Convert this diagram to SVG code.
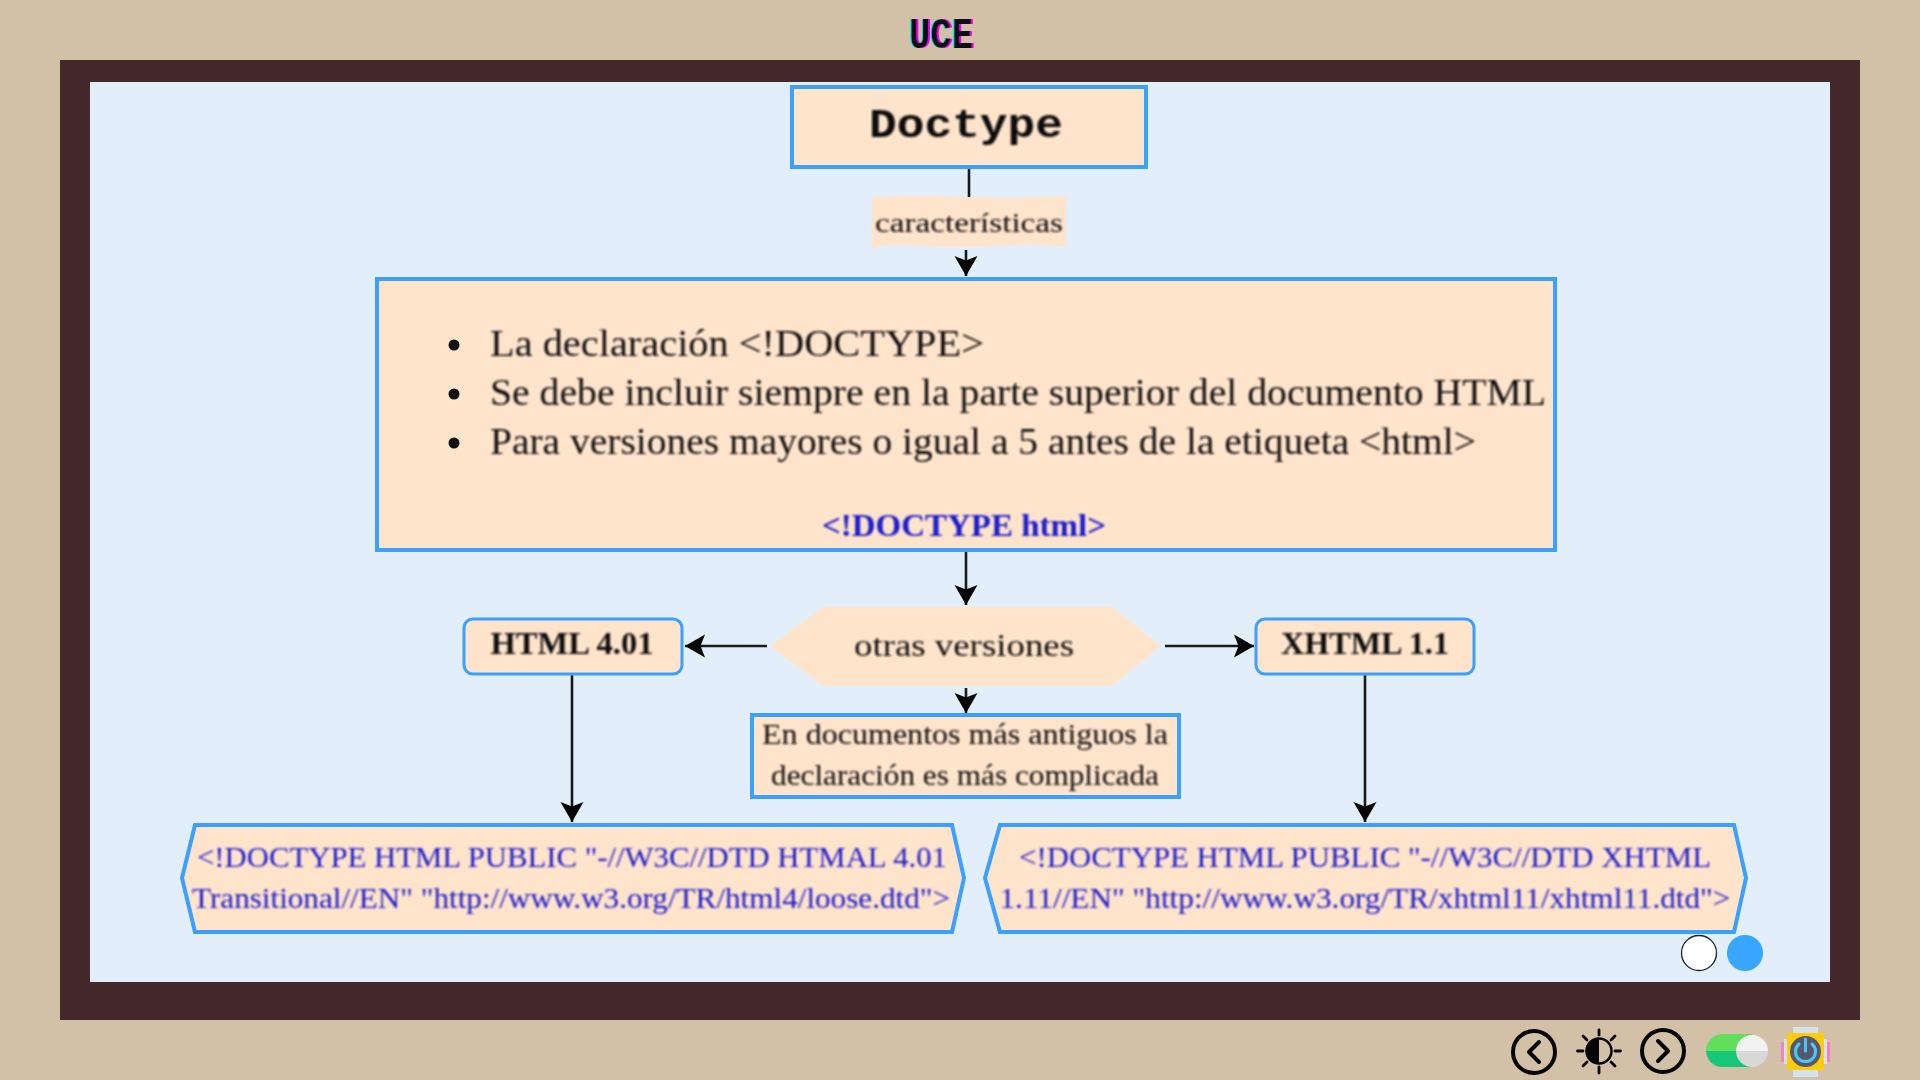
<svg xmlns="http://www.w3.org/2000/svg" width="1920" height="1080" viewBox="0 0 1920 1080">
<style>
.box{fill:#ffe4cc;stroke:#3ba0ff;stroke-width:4;filter:url(#edge)}
.conn{fill:none;stroke:#1a1a1a;stroke-width:2.6}
text{font-family:"Liberation Serif","Times New Roman",serif;fill:#111;filter:url(#soft)}
.c{text-anchor:middle}
.blue{fill:#1a1acc}
.ico{fill:none;stroke:#050505;stroke-width:4;stroke-linecap:round;stroke-linejoin:round}
</style>
<defs>
<filter id="soft" x="-5%" y="-30%" width="110%" height="160%"><feGaussianBlur stdDeviation="0.8"/></filter>
<filter id="edge" x="-2%" y="-5%" width="104%" height="110%"><feGaussianBlur stdDeviation="0.6"/></filter>
<filter id="glitch" x="-10%" y="-10%" width="120%" height="120%">
<feOffset in="SourceAlpha" dx="-1.500" result="a"/><feFlood flood-color="#00e5e5"/><feComposite in2="a" operator="in" result="cy"/>
<feOffset in="SourceAlpha" dx="1.500" result="b"/><feFlood flood-color="#f000f0"/><feComposite in2="b" operator="in" result="mg"/>
<feMerge><feMergeNode in="cy"/><feMergeNode in="mg"/><feMergeNode in="SourceGraphic"/></feMerge>
</filter>
<marker id="arr" markerUnits="userSpaceOnUse" markerWidth="24" markerHeight="26" viewBox="0 0 24 26" refX="22" refY="13" orient="auto">
<path d="M2 1.500L22 13L2 24.500L6.500 13Z" fill="#050505"/>
</marker>
</defs>
<rect width="1920" height="1080" fill="#d2c1a7"/>
<rect x="60" y="60" width="1800" height="960" fill="#45282b"/>
<rect x="90" y="82" width="1740" height="900" fill="#e2effa"/>
<text id="title" x="941" y="48" class="c" style="font-family:'Liberation Mono',monospace;font-weight:700;font-size:45px;fill:#0a0a14;filter:url(#glitch)" textLength="64" lengthAdjust="spacingAndGlyphs">UCE</text>

<g id="connectors">
<path class="conn" d="M969 169V197"/>
<path class="conn" d="M966 250V276" marker-end="url(#arr)"/>
<path class="conn" d="M966 552V605" marker-end="url(#arr)"/>
<path class="conn" d="M767 646H685" marker-end="url(#arr)"/>
<path class="conn" d="M1165 646H1254" marker-end="url(#arr)"/>
<path class="conn" d="M966 688V713" marker-end="url(#arr)"/>
<path class="conn" d="M572 675V822" marker-end="url(#arr)"/>
<path class="conn" d="M1365 675V822" marker-end="url(#arr)"/>
</g>

<g id="node-doctype">
<rect class="box" x="792" y="87" width="354" height="80"/>
<text x="966" y="137" class="c" style="font-family:'Liberation Mono',monospace;font-weight:700;font-size:40px" textLength="194" lengthAdjust="spacingAndGlyphs">Doctype</text>
</g>

<g id="node-caracteristicas">
<path d="M872 197Q920 195 969 197T1066 196V247Q1040 243 1010 245T960 247T910 245T872 249Z" fill="#ffe4cc"/>
<text x="969" y="232" class="c" style="font-size:28px" textLength="188" lengthAdjust="spacingAndGlyphs">características</text>
</g>

<g id="node-main">
<rect class="box" x="377" y="279" width="1178" height="271"/>
<circle cx="454" cy="345" r="5.500" fill="#111"/>
<circle cx="454" cy="394" r="5.500" fill="#111"/>
<circle cx="454" cy="443" r="5.500" fill="#111"/>
<text x="490" y="356" style="font-size:37px" textLength="494" lengthAdjust="spacingAndGlyphs">La declaración &lt;!DOCTYPE&gt;</text>
<text x="490" y="405" style="font-size:37px" textLength="1056" lengthAdjust="spacingAndGlyphs">Se debe incluir siempre en la parte superior del documento HTML</text>
<text x="490" y="454" style="font-size:37px" textLength="986" lengthAdjust="spacingAndGlyphs">Para versiones mayores o igual a 5 antes de la etiqueta &lt;html&gt;</text>
<text x="964" y="536" class="c blue" style="font-size:32px;font-weight:700" textLength="284" lengthAdjust="spacingAndGlyphs">&lt;!DOCTYPE html&gt;</text>
</g>

<g id="node-otras">
<path d="M823 607H1112L1161 646L1112 686H823L770 646Z" fill="#ffe4cc"/>
<text x="964" y="656" class="c" style="font-size:32px" textLength="220" lengthAdjust="spacingAndGlyphs">otras versiones</text>
</g>

<g id="node-html401">
<rect class="box" style="stroke-width:3" x="464" y="619" width="218" height="55" rx="9"/>
<text x="572" y="654" class="c" style="font-size:32px;font-weight:700" textLength="163" lengthAdjust="spacingAndGlyphs">HTML 4.01</text>
</g>

<g id="node-xhtml11">
<rect class="box" style="stroke-width:3" x="1256" y="619" width="218" height="55" rx="9"/>
<text x="1365" y="654" class="c" style="font-size:32px;font-weight:700" textLength="168" lengthAdjust="spacingAndGlyphs">XHTML 1.1</text>
</g>

<g id="node-antiguos">
<rect class="box" x="752" y="715" width="427" height="82"/>
<text x="965" y="744" class="c" style="font-size:30px" textLength="406" lengthAdjust="spacingAndGlyphs">En documentos más antiguos la</text>
<text x="965" y="785" class="c" style="font-size:30px" textLength="388" lengthAdjust="spacingAndGlyphs">declaración es más complicada</text>
</g>

<g id="node-html-code">
<path class="box" d="M195 825H952L964 878L952 932H195L182 878Z"/>
<text x="572" y="867" class="c blue" style="font-size:28.500px" textLength="750" lengthAdjust="spacingAndGlyphs">&lt;!DOCTYPE HTML PUBLIC "-//W3C//DTD HTMAL 4.01</text>
<text x="571" y="908" class="c blue" style="font-size:28.500px" textLength="758" lengthAdjust="spacingAndGlyphs">Transitional//EN" "http://www.w3.org/TR/html4/loose.dtd"&gt;</text>
</g>

<g id="node-xhtml-code">
<path class="box" d="M1000 825H1734L1746 878L1734 932H1000L985 878Z"/>
<text x="1365" y="867" class="c blue" style="font-size:28.500px" textLength="692" lengthAdjust="spacingAndGlyphs">&lt;!DOCTYPE HTML PUBLIC "-//W3C//DTD XHTML</text>
<text x="1365" y="908" class="c blue" style="font-size:28.500px" textLength="731" lengthAdjust="spacingAndGlyphs">1.11//EN" "http://www.w3.org/TR/xhtml11/xhtml11.dtd"&gt;</text>
</g>

<g id="pager">
<circle cx="1699" cy="953" r="17.500" fill="#fff" stroke="#222" stroke-width="1.300"/>
<circle cx="1745" cy="953" r="18" fill="#38a5ff"/>
</g>

<g id="controls">
<circle class="ico" cx="1534" cy="1052" r="21"/>
<path class="ico" d="M1539 1042L1529 1052L1539 1062"/>
<circle cx="1599" cy="1051" r="12.500" fill="none" stroke="#050505" stroke-width="2.500"/>
<path d="M1599 1038.500A12.500 12.500 0 0 0 1599 1063.500Z" fill="#050505"/>
<path class="ico" style="stroke-width:2.800" d="M1599 1030V1035M1599 1067V1073M1577.500 1051H1583M1615 1051H1620.500M1583 1036L1587 1040M1611 1062L1615 1066M1583 1066L1587 1062M1611 1040L1615 1036"/>
<circle class="ico" cx="1663" cy="1051" r="21"/>
<path class="ico" d="M1658 1041L1668 1051L1658 1061"/>
<path d="M1722 1034H1752V1051H1706A16.500 16.500 0 0 1 1722 1034Z" fill="#62dd5c"/>
<path d="M1706 1051H1752V1067H1722A16.500 16.500 0 0 1 1706 1051Z" fill="#16c77a"/>
<path d="M1736 1051A16 16 0 0 1 1768 1051Z" fill="#f2f2f2"/>
<path d="M1736 1051A16 16 0 0 0 1768 1051Z" fill="#d8d8d8"/>
<rect x="1793" y="1027" width="25" height="50" fill="#d3e2ee"/>
<rect x="1784" y="1039" width="43" height="25" fill="#d3e2ee"/>
<rect x="1781" y="1042" width="3" height="20" fill="#f77fc0"/>
<rect x="1827" y="1042" width="3" height="20" fill="#f77fc0"/>
<rect x="1787" y="1033" width="37" height="37" rx="2" fill="#ffcc0a"/>
<circle cx="1805.500" cy="1051.500" r="15.500" fill="#56596e"/>
<path d="M1799 1044A10 10 0 1 0 1812 1044M1805.500 1039V1051" fill="none" stroke="#4cc8f5" stroke-width="3" stroke-linecap="round"/>
</g>
</svg>
